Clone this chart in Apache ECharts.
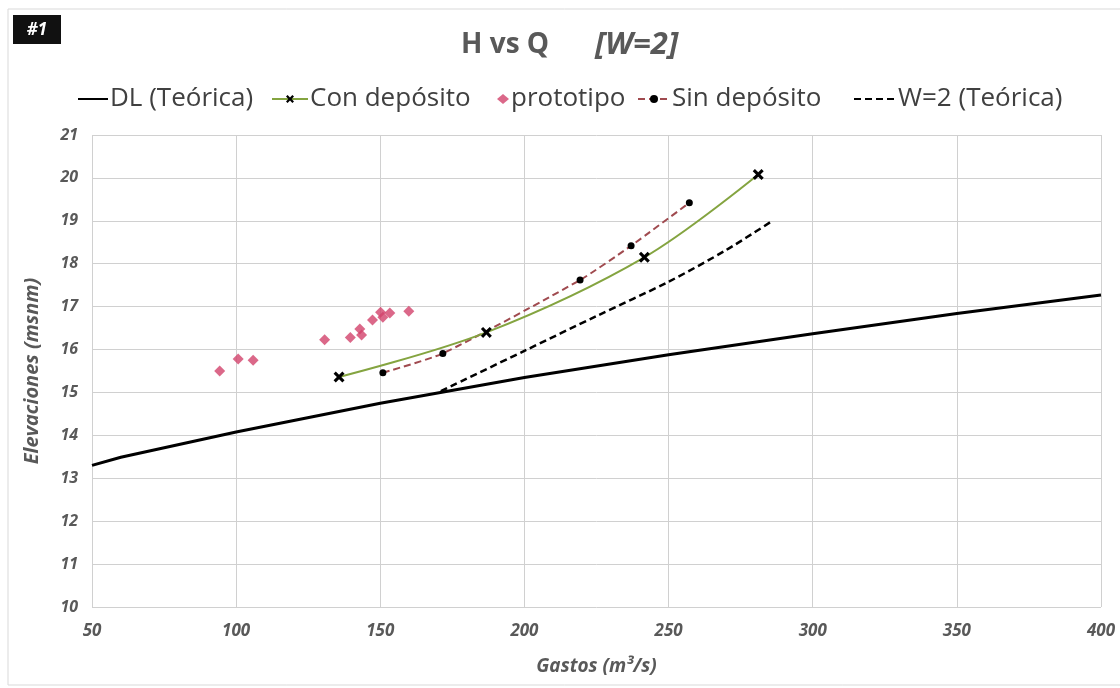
<!DOCTYPE html>
<html>
<head>
<meta charset="utf-8">
<script src="https://cdn.jsdelivr.net/npm/echarts@6/dist/echarts.min.js"></script>
<style>
html,body{margin:0;padding:0;background:#fff;}
#c{width:1120px;height:688px;}
</style>
</head>
<body>
<div id="c"></div>
<script>
// ---- data ----
const xTicks = [50, 100, 150, 200, 250, 300, 350, 400];
const yTicks = [10, 11, 12, 13, 14, 15, 16, 17, 18, 19, 20, 21];

const dlQ = [50, 60, 100, 150, 200, 250, 300, 350, 400];
const dlH = [13.30, 13.49, 14.08, 14.75, 15.35, 15.88, 16.37, 16.84, 17.27];

const conQ = [135.7, 186.8, 241.6, 281.1];
const conH = [15.36, 16.40, 18.15, 20.08];

const protoQ = [94.3, 100.7, 105.9, 130.7, 139.6, 142.9, 143.5, 147.3, 150.1, 150.9, 153.3, 159.9];
const protoH = [15.50, 15.78, 15.75, 16.23, 16.28, 16.48, 16.34, 16.69, 16.87, 16.75, 16.85, 16.89];

const sinQ = [150.9, 171.7, 219.3, 237.0, 257.2];
const sinH = [15.46, 15.91, 17.62, 18.42, 19.42];

const w2Q = [171, 200, 225, 250, 270, 286];
const w2H = [15.03, 15.97, 16.78, 17.58, 18.32, 19.00];

const legendNames = ['DL (Teórica)', 'Con depósito', 'prototipo', 'Sin depósito', 'W=2 (Teórica)'];

const zip = (a, b) => a.map((v, i) => [v, b[i]]);

const FONT = '"Open Sans"';
const GRAY = '#595959';
const XMARK = 'path://M2,0L5,3L8,0L10,2L7,5L10,8L8,10L5,7L2,10L0,8L3,5L0,2Z';

const legendBase = {
  top: 81,
  itemHeight: 10,
  textStyle: { fontSize: 26, color: '#404040', fontFamily: FONT, padding: [0, 0, 0, -3] }
};
const legLayout = [
  { left: 72, itemWidth: 30, extra: { itemStyle: { opacity: 0 } } },
  { left: 266, itemWidth: 36, extra: {} },
  { left: 492, itemWidth: 12, extra: { icon: 'diamond' } },
  { left: 632, itemWidth: 32, extra: {} },
  { left: 848, itemWidth: 42, extra: { itemStyle: { opacity: 0 } } }
];
const legends = legendNames.map((n, i) => Object.assign({}, legendBase, {
  left: legLayout[i].left,
  itemWidth: legLayout[i].itemWidth,
  data: [Object.assign({ name: n }, legLayout[i].extra)]
}));

const chart = echarts.init(document.getElementById('c'));
chart.setOption({
  animation: false,
  backgroundColor: '#fff',
  textStyle: { fontFamily: FONT },
  graphic: [
    { type: 'rect', shape: { x: 8, y: 9, width: 1130, height: 676 }, style: { fill: 'none', stroke: '#d9d9d9', lineWidth: 1 } },
    { type: 'rect', shape: { x: 13, y: 15, width: 48, height: 29 }, style: { fill: '#111' } },
    { type: 'text', x: 37, y: 30, style: { text: '#1', fill: '#fff', font: 'italic bold 17px ' + FONT, align: 'center', verticalAlign: 'middle' } }
  ],
  title: {
    text: '{a|H vs Q}{g|}{b|[W=2]}',
    left: 456,
    top: 25,
    textStyle: {
      rich: {
        a: { fontSize: 28, fontWeight: 'bold', color: GRAY, fontFamily: FONT },
        g: { width: 46 },
        b: { fontSize: 31, fontWeight: 'bold', fontStyle: 'italic', color: GRAY, fontFamily: FONT }
      }
    }
  },
  legend: legends,
  grid: { left: 92, right: 19, top: 135, bottom: 81 },
  xAxis: {
    type: 'value',
    min: 50, max: 400, interval: 50,
    name: 'Gastos (m³/s)',
    nameLocation: 'middle',
    nameGap: 50,
    nameTextStyle: { fontSize: 19, fontStyle: 'italic', fontWeight: 'bold', color: GRAY, fontFamily: FONT },
    axisLine: { show: false },
    axisTick: { show: false },
    axisLabel: { margin: 16, fontSize: 17, fontStyle: 'italic', fontWeight: 'bold', color: GRAY, fontFamily: FONT,
      formatter: v => xTicks.includes(v) ? String(v) : '' },
    splitLine: { show: true, lineStyle: { color: '#d0d0d0', width: 1 } }
  },
  yAxis: {
    type: 'value',
    min: 10, max: 21, interval: 1,
    name: 'Elevaciones (msnm)',
    nameLocation: 'middle',
    nameGap: 50,
    nameTextStyle: { fontSize: 20, fontStyle: 'italic', fontWeight: 'bold', color: GRAY, fontFamily: FONT },
    axisLine: { show: false },
    axisTick: { show: false },
    axisLabel: { margin: 14, fontSize: 16, fontStyle: 'italic', fontWeight: 'bold', color: GRAY, fontFamily: FONT,
      formatter: v => yTicks.includes(v) ? String(v) : '' },
    splitLine: { show: true, lineStyle: { color: '#d0d0d0', width: 1 } }
  },
  series: [
    {
      name: legendNames[0], type: 'line', data: zip(dlQ, dlH),
      showSymbol: false, symbol: 'none',
      lineStyle: { color: '#000', width: 3 }, itemStyle: { color: '#000' }, z: 3
    },
    {
      name: legendNames[1], type: 'line', data: zip(conQ, conH),
      smooth: 0.35, symbol: XMARK, symbolSize: 11,
      lineStyle: { color: '#84a440', width: 2 }, itemStyle: { color: '#000' }, z: 5
    },
    {
      name: legendNames[2], type: 'scatter', data: zip(protoQ, protoH),
      symbol: 'diamond', symbolSize: 11,
      itemStyle: { color: '#d2426b' }, z: 4
    },
    {
      name: legendNames[3], type: 'line', data: zip(sinQ, sinH),
      smooth: 0.2, symbol: 'circle', symbolSize: 7,
      lineStyle: { color: '#a04a4f', width: 2, type: [7, 4] }, itemStyle: { color: '#000' }, z: 4
    },
    {
      name: legendNames[4], type: 'line', data: zip(w2Q, w2H),
      smooth: 0.3, symbol: 'none',
      lineStyle: { color: '#000', width: 2.5, type: [7, 4] }, itemStyle: { color: '#000' }, z: 3
    }
  ]
});
</script>
</body>
</html>
